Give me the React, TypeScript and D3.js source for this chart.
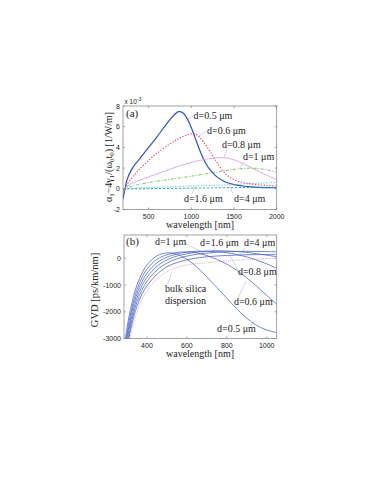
import React from 'react';
import * as d3 from 'd3';

// ---------- (a) data ----------
const lamA = [200, 225, 250, 300, 350, 400, 500, 600, 700, 800, 850, 900, 950, 1000, 1050, 1100, 1150, 1200, 1250, 1300, 1400, 1500, 1600, 1700, 1800, 1900, 2000];
const aD05 = [-1.0, 0.05, 0.95, 1.85, 2.45, 2.95, 4.0, 5.05, 6.15, 7.15, 7.45, 7.35, 6.8, 5.9, 4.8, 3.7, 2.75, 2.05, 1.55, 1.15, 0.65, 0.4, 0.27, 0.19, 0.14, 0.11, 0.09];
const aD06 = [-0.5, 0.0, 0.45, 1.0, 1.5, 1.95, 2.75, 3.45, 4.05, 4.6, 4.85, 5.05, 5.22, 5.32, 5.3, 4.95, 4.45, 3.85, 3.2, 2.55, 1.45, 0.88, 0.62, 0.47, 0.37, 0.31, 0.26];
const aD08 = [-0.2, 0.05, 0.25, 0.5, 0.68, 0.85, 1.15, 1.45, 1.75, 2.05, 2.18, 2.3, 2.43, 2.55, 2.65, 2.75, 2.83, 2.9, 2.95, 3.0, 3.0, 2.8, 2.45, 2.05, 1.65, 1.25, 0.9];
const aD1 = [-0.1, 0.02, 0.1, 0.22, 0.34, 0.45, 0.6, 0.72, 0.85, 0.97, 1.03, 1.1, 1.16, 1.22, 1.28, 1.35, 1.42, 1.48, 1.55, 1.62, 1.75, 1.86, 1.95, 2.0, 1.95, 1.8, 1.6];
const aD16 = [-0.05, 0.0, 0.02, 0.05, 0.07, 0.09, 0.12, 0.15, 0.18, 0.21, 0.22, 0.24, 0.25, 0.27, 0.28, 0.29, 0.3, 0.32, 0.33, 0.35, 0.38, 0.42, 0.46, 0.5, 0.54, 0.58, 0.62];
const aD4 = [-0.1, -0.05, -0.03, -0.01, -0.005, 0.0, 0.01, 0.02, 0.03, 0.04, 0.045, 0.05, 0.055, 0.06, 0.065, 0.07, 0.075, 0.08, 0.085, 0.09, 0.1, 0.11, 0.12, 0.125, 0.13, 0.135, 0.14];
const aTicksX = [500, 1000, 1500, 2000];
const aTicksY = [-2, 0, 2, 4, 6, 8];

// ---------- (b) data ----------
const lamB = [285, 300, 325, 350, 375, 400, 450, 500, 550, 600, 650, 700, 750, 800, 850, 900, 950, 1000, 1050];
const bD05 = [-3500, -2600, -1650, -1000, -560, -250, 90, 200, 150, -40, -330, -700, -1090, -1490, -1890, -2240, -2510, -2680, -2780];
const bD06 = [-3700, -2800, -1850, -1170, -720, -400, -40, 130, 220, 240, 200, 100, -40, -220, -450, -730, -1050, -1390, -1720];
const bD08 = [-3850, -2950, -2000, -1330, -880, -560, -170, 40, 160, 230, 260, 265, 250, 210, 140, 50, -70, -210, -370];
const bD1 = [-4000, -3100, -2150, -1480, -1030, -710, -300, -60, 80, 170, 230, 265, 280, 275, 255, 220, 170, 115, 60];
const bD16 = [-4150, -3250, -2300, -1640, -1190, -870, -440, -180, -20, 80, 150, 195, 225, 245, 255, 258, 255, 250, 245];
const bD4 = [-4300, -3400, -2450, -1800, -1350, -1030, -600, -320, -160, -60, 10, 55, 85, 105, 120, 130, 137, 142, 145];
const bBulk = [-4450, -3550, -2650, -2000, -1550, -1220, -780, -500, -340, -250, -200, -165, -130, -100, -72, -48, -28, -12, 0];
const bTicksX = [400, 600, 800, 1000];
const bTicksY = [-3000, -2000, -1000, 0];

// labels: [text, lam, value]
const aLabels: [string, number, number][] = [
  ['d=0.5 μm', 1026, 6.74],
  ['d=0.6 μm', 1184, 5.29],
  ['d=0.8 μm', 1359, 3.94],
  ['d=1 μm', 1605, 2.78],
  ['d=1.6 μm', 914, -1.28],
  ['d=4 μm', 1500, -1.28],
];
const aLeaders: [number, number, number, number][] = [
  [1020, 7.03, 938, 6.55],
  [1172, 5.58, 1078, 5.0],
  [1418, 3.84, 1383, 3.02],
  [1617, 2.59, 1558, 1.91],
  [1008, -0.5, 1043, 0.17],
  [1488, -0.5, 1453, 0.17],
];
const bLabels: [string, number, number][] = [
  ['d=1 μm', 440, 497],
  ['d=1.6 μm', 666, 460],
  ['d=4 μm', 886, 460],
  ['d=0.8 μm', 856, -629],
  ['d=0.6 μm', 836, -1751],
  ['d=0.5 μm', 751, -2757],
  ['bulk silica', 490, -1261],
  ['dispersion', 490, -1710],
];
const bLeaders: [number, number, number, number][] = [
  [586, 572, 686, 198],
  [741, 385, 721, 160],
  [891, 385, 866, 123],
  [856, -438, 816, 85],
  [856, -1486, 896, -850],
  [916, -2532, 941, -2345],
  [505, -962, 525, -513],
];

const SERIF = '"Liberation Serif", "Times New Roman", serif';
const SANS = '"Liberation Sans", Arial, sans-serif';

function Frame({ x, y, ticksX, ticksY, fmt }: any) {
  const [x0, x1] = x.range();
  const [y0, y1] = y.range();
  const tl = 2.2;
  return (
    <g>
      <rect x={x0} y={y1} width={x1 - x0} height={y0 - y1} fill="none" stroke="#8a8a8a" strokeWidth={0.8} />
      {ticksX.map((t: number) => (
        <g key={'x' + t}>
          <line x1={x(t)} x2={x(t)} y1={y0} y2={y0 - tl} stroke="#777" strokeWidth={0.6} />
          <line x1={x(t)} x2={x(t)} y1={y1} y2={y1 + tl} stroke="#777" strokeWidth={0.6} />
          <text x={x(t)} y={y0 + 9} fontFamily={SANS} fontSize={7} textAnchor="middle" fill="#222">{t}</text>
        </g>
      ))}
      {ticksY.map((t: number) => (
        <g key={'y' + t}>
          <line x1={x0} x2={x0 + tl} y1={y(t)} y2={y(t)} stroke="#777" strokeWidth={0.6} />
          <line x1={x1} x2={x1 - tl} y1={y(t)} y2={y(t)} stroke="#777" strokeWidth={0.6} />
          <text x={x0 - 3} y={y(t) + 2.5} fontFamily={SANS} fontSize={7} textAnchor="end" fill="#222">{fmt(t)}</text>
        </g>
      ))}
    </g>
  );
}

export default function App() {
  const xa = d3.scaleLinear().domain([200, 2000]).range([123, 276.7]);
  const ya = d3.scaleLinear().domain([-2, 8]).range([209.5, 106]);
  const xb = d3.scaleLinear().domain([285, 1050]).range([124, 276.7]);
  const yb = d3.scaleLinear().domain([-3000, 870]).range([338.5, 235]);

  const lineA = (vals: number[]) =>
    d3.line<number>().x((_, i) => xa(lamA[i])).y((d) => ya(d)).curve(d3.curveCatmullRom.alpha(0.5))(vals) || '';
  const lineB = (vals: number[]) =>
    d3.line<number>().x((_, i) => xb(lamB[i])).y((d) => yb(d)).curve(d3.curveCatmullRom.alpha(0.5))(vals) || '';

  const aSeries = [
    { v: aD05, c: '#3050c8', w: 1.2, dash: undefined },
    { v: aD06, c: '#e4406a', w: 1.1, dash: '1.3,1.6' },
    { v: aD08, c: '#d8a2e4', w: 0.9, dash: undefined },
    { v: aD1, c: '#66c04a', w: 0.9, dash: '3,1.5,1,1.5' },
    { v: aD16, c: '#46c2d2', w: 0.9, dash: '1.2,1.4' },
    { v: aD4, c: '#2c9aaa', w: 0.9, dash: '2.5,1.5' },
  ];
  const bSeries = [bD05, bD06, bD08, bD1, bD16, bD4];

  return (
    <svg width={382} height={494} style={{ position: 'absolute', left: 0, top: 0, background: '#fff' }}>
      <defs>
        <clipPath id="clipA">
          <rect x={123} y={106} width={153.7} height={103.5} />
        </clipPath>
        <clipPath id="clipB">
          <rect x={124} y={235} width={152.7} height={103.5} />
        </clipPath>
      </defs>
      <rect x={0} y={0} width={382} height={494} fill="#fff" />

      {/* ---------- (a) ---------- */}
      <g clipPath="url(#clipA)">
        {aLeaders.map((l, i) => (
          <line key={i} x1={xa(l[0])} y1={ya(l[1])} x2={xa(l[2])} y2={ya(l[3])} stroke="#aaa" strokeWidth={0.5} />
        ))}
        {aSeries.map((s, i) => (
          <path key={i} d={lineA(s.v)} fill="none" stroke={s.c} strokeWidth={s.w} strokeDasharray={s.dash} />
        ))}
      </g>
      <Frame x={xa} y={ya} ticksX={aTicksX} ticksY={aTicksY} fmt={(t: number) => String(t)} />
      {aLabels.map((l, i) => (
        <text key={i} x={xa(l[1])} y={ya(l[2])} fontFamily={SERIF} fontSize={10} fill="#222">{l[0]}</text>
      ))}
      <text x={126} y={117} fontFamily={SERIF} fontSize={11} fill="#222">(a)</text>
      <text x={124.5} y={103.5} fontFamily={SANS} fontSize={6.5} fill="#222">
        x 10<tspan dy={-3} fontSize={5}>-3</tspan>
      </text>
      <text x={200} y={228} fontFamily={SERIF} fontSize={10} textAnchor="middle" fill="#222">wavelength [nm]</text>
      <text transform="translate(112,157) rotate(-90)" fontFamily={SERIF} fontSize={10} textAnchor="middle" fill="#222">
        α<tspan dy={2} fontSize={7}>1</tspan><tspan dy={-2}>−4γ</tspan><tspan dy={2} fontSize={7}>1</tspan><tspan dy={-2}>/(ω</tspan><tspan dy={2} fontSize={7}>0</tspan><tspan dy={-2}>t</tspan><tspan dy={2} fontSize={7}>0</tspan><tspan dy={-2}>) [1/W/m]</tspan>
      </text>

      {/* ---------- (b) ---------- */}
      <g clipPath="url(#clipB)">
        {bLeaders.map((l, i) => (
          <line key={i} x1={xb(l[0])} y1={yb(l[1])} x2={xb(l[2])} y2={yb(l[3])} stroke="#aaa" strokeWidth={0.5} />
        ))}
        <path d={lineB(bBulk)} fill="none" stroke="#e890b0" strokeWidth={0.9} strokeDasharray="1,1.2" />
        {bSeries.map((v, i) => (
          <path key={i} d={lineB(v)} fill="none" stroke="#5068c6" strokeWidth={0.8} />
        ))}
      </g>
      <Frame x={xb} y={yb} ticksX={bTicksX} ticksY={bTicksY} fmt={(t: number) => String(t)} />
      {bLabels.map((l, i) => (
        <text key={i} x={xb(l[1])} y={yb(l[2])} fontFamily={SERIF} fontSize={10} fill="#222">{l[0]}</text>
      ))}
      <text x={126} y={245} fontFamily={SERIF} fontSize={11} fill="#222">(b)</text>
      <text x={200} y={357} fontFamily={SERIF} fontSize={10} textAnchor="middle" fill="#222">wavelength [nm]</text>
      <text transform="translate(98,290) rotate(-90)" fontFamily={SERIF} fontSize={10.5} textAnchor="middle" fill="#222">GVD [ps/km/nm]</text>
    </svg>
  );
}
